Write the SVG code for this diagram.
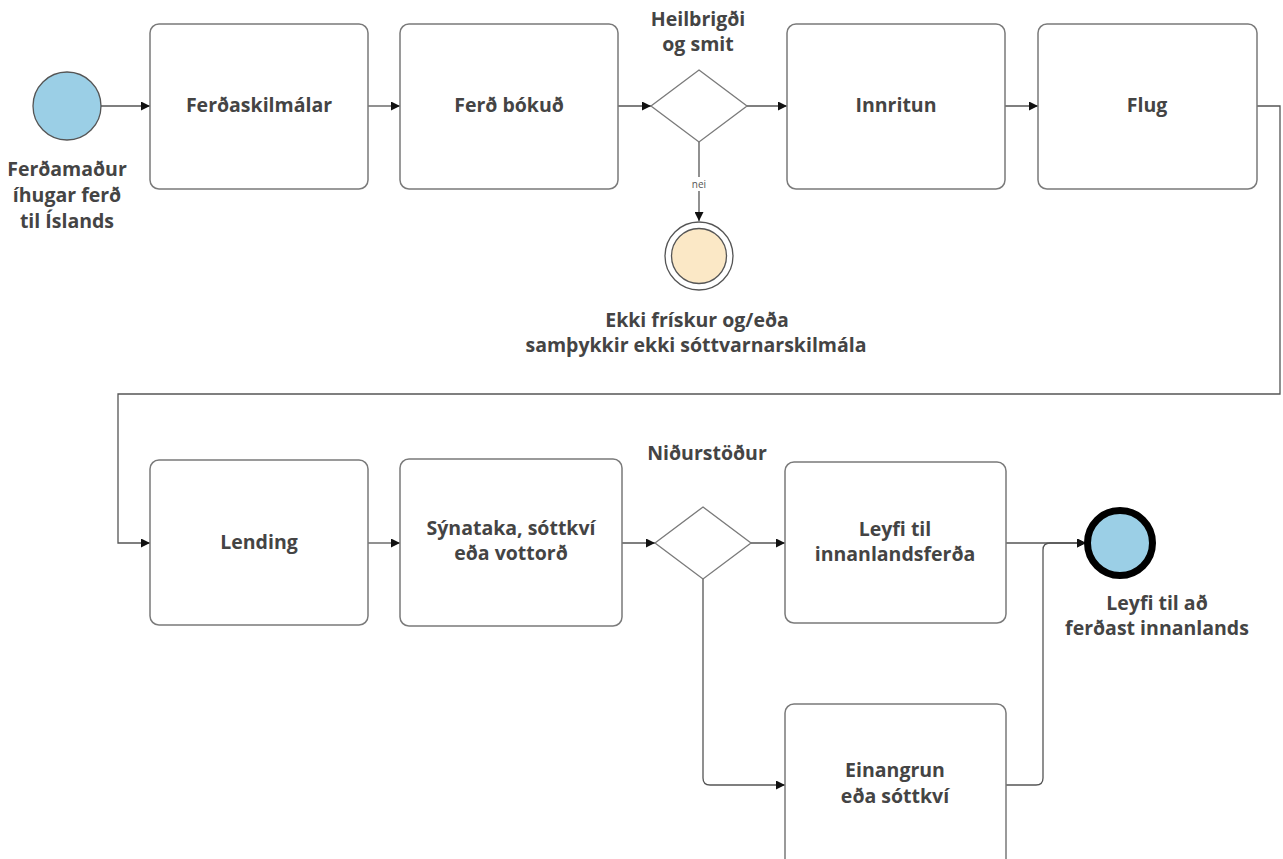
<svg xmlns="http://www.w3.org/2000/svg" width="1283" height="859" viewBox="0 0 1283 859">
<style>
.box{fill:#fff;stroke:#7a7a7a;stroke-width:1.5}
.dia{fill:#fff;stroke:#7a7a7a;stroke-width:1.3}
.t{font-family:"Open Sans","Noto Sans",sans-serif;font-weight:700;font-size:19.5px;fill:#444;text-anchor:middle}
.s{font-family:"Open Sans","Noto Sans",sans-serif;font-size:10px;fill:#555;text-anchor:middle}
.c{fill:none;stroke:#555;stroke-width:1.3}
</style>
<defs>
<marker id="arr" viewBox="0 0 10 10" refX="10" refY="5" markerWidth="9" markerHeight="9" markerUnits="userSpaceOnUse" orient="auto">
<path d="M0,0 L10,5 L0,10 z" fill="#111"/>
</marker>
</defs>
<g id="connectors">
<path class="c" d="M101 106 H150" marker-end="url(#arr)"/>
<path class="c" d="M368 106 H400" marker-end="url(#arr)"/>
<path class="c" d="M618 106 H651" marker-end="url(#arr)"/>
<path class="c" d="M747 106 H787" marker-end="url(#arr)"/>
<path class="c" d="M1005 106 H1038" marker-end="url(#arr)"/>
<path class="c" d="M1257 106 H1280 V394 H118 V543 H150" marker-end="url(#arr)"/>
<path class="c" d="M699 142 V221" marker-end="url(#arr)"/>
<rect x="688" y="177" width="22" height="14" fill="#fff"/>
<text class="s" x="699" y="188">nei</text>
<path class="c" d="M368 543 H400" marker-end="url(#arr)"/>
<path class="c" d="M622 543 H655" marker-end="url(#arr)"/>
<path class="c" d="M751 543 H785" marker-end="url(#arr)"/>
<path class="c" d="M1006 543 H1086" marker-end="url(#arr)"/>
<path class="c" d="M703 579 V778 Q703 785 710 785 H785" marker-end="url(#arr)"/>
<path class="c" d="M1006 785 H1036 Q1043 785 1043 778 V550 Q1043 543 1050 543 H1086" marker-end="url(#arr)"/>
</g>
<g id="start">
<circle cx="67" cy="106" r="34" fill="#9bcfe6" stroke="#555" stroke-width="1.3"/>
<text class="t" x="67" y="176">Ferðamaður</text>
<text class="t" x="67" y="202">íhugar ferð</text>
<text class="t" x="67" y="228">til Íslands</text>
</g>
<g id="ferdaskilmalar">
<rect class="box" x="150" y="24" width="218" height="165" rx="9"/>
<text class="t" x="259" y="112">Ferðaskilmálar</text>
</g>
<g id="ferd-bokud">
<rect class="box" x="400" y="24" width="218" height="165" rx="9"/>
<text class="t" x="509" y="112">Ferð bókuð</text>
</g>
<g id="heilbrigdi">
<path class="dia" d="M699 70 L747 106 L699 142 L651 106 Z"/>
<text class="t" x="698" y="26">Heilbrigði</text>
<text class="t" x="698" y="51">og smit</text>
</g>
<g id="ekki-friskur">
<circle cx="699" cy="256" r="34" fill="#fff" stroke="#555" stroke-width="1.3"/>
<circle cx="699" cy="256" r="27.5" fill="#fbe8c6" stroke="#555" stroke-width="1.3"/>
<text class="t" x="697" y="327">Ekki frískur og/eða</text>
<text class="t" x="696" y="352">samþykkir ekki sóttvarnarskilmála</text>
</g>
<g id="innritun">
<rect class="box" x="787" y="24" width="218" height="165" rx="9"/>
<text class="t" x="896" y="112">Innritun</text>
</g>
<g id="flug">
<rect class="box" x="1038" y="24" width="219" height="165" rx="9"/>
<text class="t" x="1147" y="112">Flug</text>
</g>
<g id="lending">
<rect class="box" x="150" y="460" width="218" height="165" rx="9"/>
<text class="t" x="259" y="549">Lending</text>
</g>
<g id="synataka">
<rect class="box" x="400" y="459" width="222" height="167" rx="9"/>
<text class="t" x="511" y="535">Sýnataka, sóttkví</text>
<text class="t" x="511" y="560">eða vottorð</text>
</g>
<g id="nidurstodur">
<path class="dia" d="M703 507 L751 543 L703 579 L655 543 Z"/>
<text class="t" x="707" y="460">Niðurstöður</text>
</g>
<g id="leyfi-innanlandsferda">
<rect class="box" x="785" y="462" width="221" height="161" rx="9"/>
<text class="t" x="895" y="536">Leyfi til</text>
<text class="t" x="895" y="561">innanlandsferða</text>
</g>
<g id="einangrun">
<rect class="box" x="785" y="704" width="221" height="170" rx="9"/>
<text class="t" x="895" y="777">Einangrun</text>
<text class="t" x="895" y="803">eða sóttkví</text>
</g>
<g id="end">
<circle cx="1120" cy="543" r="32.5" fill="#9bcfe6" stroke="#000" stroke-width="7"/>
<text class="t" x="1157" y="610">Leyfi til að</text>
<text class="t" x="1157" y="635">ferðast innanlands</text>
</g>
</svg>
